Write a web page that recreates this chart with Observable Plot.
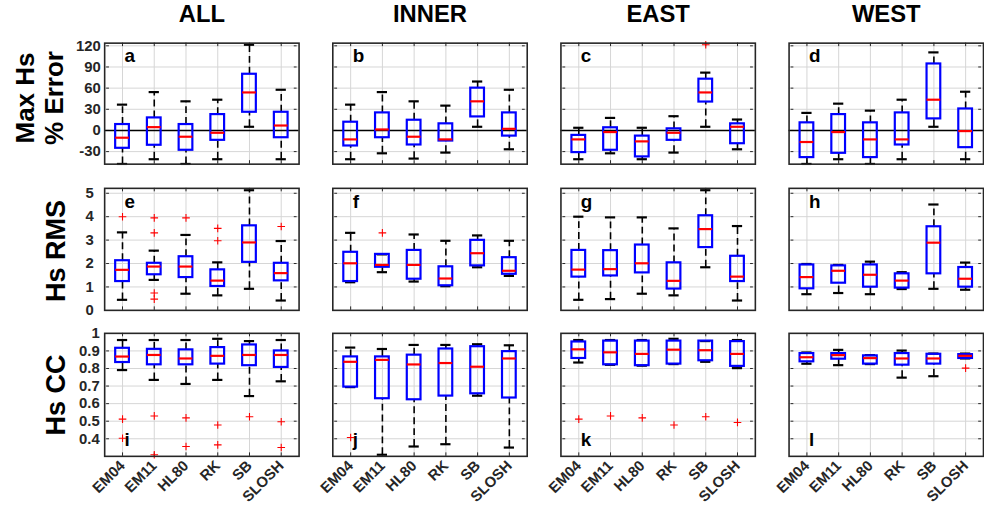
<!DOCTYPE html>
<html><head><meta charset="utf-8">
<script src="https://cdn.jsdelivr.net/npm/d3@7"></script>
<script src="https://cdn.jsdelivr.net/npm/@observablehq/plot@0.6"></script>
<style>
html,body{margin:0;padding:0;background:#fff;overflow:hidden;}
#wrap{position:relative;width:984px;height:505px;overflow:hidden;font-family:"Liberation Sans",Arial,sans-serif;}
.row{position:absolute;left:0;}
.rl{position:absolute;font-weight:bold;color:#000;white-space:nowrap;text-align:center;transform:translate(-50%,-50%) rotate(-90deg);}
</style></head><body>
<div id="wrap"></div>
<script>
const models = ["EM04","EM11","HL80","RK","SB","SLOSH"];
const regions = ["ALL","INNER","EAST","WEST"];
const letters = ["a","b","c","d","e","f","g","h","i","j","k","l"];

// each box: [lower whisker, Q1, median, Q3, upper whisker]
// Max Hs % Error
const errALL   = [[-47.5,-25.3,-10.3,8.4,36.6],[-40.8,-21,4.7,17.8,54.4],[-47.5,-28.1,-8.9,8.4,41.3],[-40.8,-14,-3.3,22.5,43.6],[5.2,25.8,53.9,79.7,121.5],[-40.8,-10.3,7,25.8,57.7]];
const errINNER = [[-40.8,-22,-12.7,11.7,36.6],[-32.4,-10.3,1.4,24.9,54.4],[-39.9,-20.6,-8.9,14.5,41.3],[-31.4,-15,-12.7,9.4,35.2],[5.2,19.2,41.3,60,69.4],[-26.7,-8,2.3,24.9,57.7]];
const errEAST  = [[-40.8,-31.4,-12.7,-7,3.8],[-32.4,-28.1,-2.3,3.8,17.8],[-40.8,-37.5,-15.5,-8,3.8],[-31.4,-14,-3.3,2.3,20.2],[5.2,40.3,53.9,72.7,82],[-26.7,-18.8,5.2,9.4,15.5]];
const errWEST  = [[-47.5,-38.5,-16.4,10.8,24.9],[-40.8,-32.4,-2.3,22.5,38],[-47.5,-38.5,-12.7,10.8,28.1],[-40.8,-20.6,-12.7,24.9,43.6],[5.2,16.4,43.6,94.3,110.7],[-40.8,-24.4,-0.9,30.5,54.9]];
const errOutliers = [["EAST","SB",121.5]];

// Hs RMS
const rmsALL   = [[0.45,1.23,1.73,2.12,3.33],[1.3,1.52,1.87,2.01,2.55],[0.71,1.4,1.87,2.29,3.22],[0.64,1.02,1.27,1.73,2.05],[0.92,2.05,2.9,3.61,5.13],[0.42,1.26,1.59,2.01,2.96]];
const rmsINNER = [[1.2,1.23,2.01,2.48,3.31],[1.63,1.84,1.94,2.39,2.39],[1.23,1.33,1.94,2.56,3.24],[1.03,1.05,1.36,1.86,2.97],[1.84,1.9,2.44,2.99,3.2],[1.47,1.54,1.69,2.25,2.97]];
const rmsEAST  = [[0.45,1.42,1.74,2.56,4.0],[0.48,1.47,1.76,2.55,3.97],[0.71,1.6,2.01,2.79,3.97],[0.64,0.91,1.26,2.03,3.5],[1.84,2.68,3.47,4.04,5.13],[0.42,1.23,1.44,2.31,3.6]];
const rmsWEST  = [[0.69,0.92,1.42,1.94,1.98],[0.74,1.16,1.69,1.9,1.94],[0.69,0.99,1.52,1.94,2.08],[0.91,0.95,1.27,1.56,1.63],[0.92,1.56,2.89,3.57,4.52],[0.88,0.99,1.35,1.83,2.04]];
const rmsOutliers = [["ALL","EM04",4.0],["ALL","EM11",3.95],["ALL","EM11",3.31],["ALL","EM11",0.74],["ALL","EM11",0.48],["ALL","HL80",3.95],["ALL","RK",3.5],["ALL","RK",2.97],["ALL","SLOSH",3.58],["INNER","EM11",3.31]];

// Hs CC
const ccALL   = [[0.791,0.834,0.868,0.915,0.962],[0.735,0.821,0.877,0.909,0.962],[0.712,0.821,0.857,0.906,0.962],[0.735,0.825,0.872,0.919,0.969],[0.643,0.816,0.877,0.934,0.956],[0.727,0.806,0.877,0.9,0.962]];
const ccINNER = [[0.694,0.694,0.838,0.866,0.919],[0.309,0.628,0.849,0.866,0.911],[0.356,0.622,0.823,0.876,0.934],[0.369,0.643,0.831,0.911,0.934],[0.645,0.656,0.81,0.924,0.938],[0.35,0.632,0.857,0.896,0.932]];
const ccEAST  = [[0.834,0.857,0.909,0.951,0.962],[0.821,0.821,0.892,0.956,0.962],[0.816,0.816,0.883,0.956,0.962],[0.825,0.825,0.907,0.956,0.969],[0.838,0.844,0.904,0.956,0.956],[0.802,0.812,0.883,0.953,0.962]];
const ccWEST  = [[0.827,0.838,0.864,0.885,0.891],[0.819,0.853,0.876,0.885,0.906],[0.825,0.825,0.859,0.872,0.876],[0.748,0.819,0.857,0.885,0.902],[0.756,0.825,0.857,0.881,0.885],[0.857,0.857,0.872,0.879,0.885]];
const ccOutliers = [["ALL","EM04",0.512],["ALL","EM04",0.403],["ALL","EM11",0.530],["ALL","EM11",0.309],["ALL","HL80",0.519],["ALL","HL80",0.356],["ALL","RK",0.478],["ALL","RK",0.365],["ALL","SB",0.525],["ALL","SLOSH",0.497],["ALL","SLOSH",0.35],["INNER","EM04",0.407],["EAST","EM04",0.512],["EAST","EM11",0.530],["EAST","HL80",0.519],["EAST","RK",0.478],["EAST","SB",0.525],["EAST","SLOSH",0.493],["WEST","SLOSH",0.802]];

const errTicks = [-30,0,30,60,90,120];
const rmsTicks = [0,1,2,3,4,5];
const ccTicks = [0.4,0.5,0.6,0.7,0.8,0.9,1];

function toRows(series) {
  return regions.flatMap((r, k) => series[k].map((v, i) => ({region: r, model: models[i], lo: v[0], q1: v[1], med: v[2], q3: v[3], hi: v[4]})));
}
function toOut(list) { return list.map(([region, model, v]) => ({region, model, v})); }

const STEP = 888 / (4 - 0.15) * 0.85 / 6;
const boxInset = (STEP - 14.5) / 2;
const capInset = (STEP - 11) / 2;
const GRID = "#d6d6d6";
const FONT = "'Liberation Sans', Arial, sans-serif";
const TICKLEN = 3.5;

function panelRow(cfg) {
  const rows = toRows(cfg.series);
  const outs = toOut(cfg.outliers);
  const lt = regions.map((r, k) => ({region: r, letter: letters[cfg.row * 4 + k]}));
  const plotH = cfg.height - cfg.mt - cfg.mb;
  const perPx = (cfg.domain[1] - cfg.domain[0]) / plotH;
  const tickData = cfg.ticks.filter(t => t > cfg.domain[0] && t < cfg.domain[1]);
  const marks = [
    Plot.gridY(cfg.ticks, {stroke: GRID, strokeOpacity: 1, strokeWidth: 1}),
    Plot.gridX(models, {stroke: GRID, strokeOpacity: 1, strokeWidth: 1}),
    Plot.axisY(cfg.ticks, {anchor: "left", tickSize: 0, tickPadding: cfg.tickPad, tickFormat: cfg.fmt, fontSize: 15, fontWeight: "bold", fill: "#262626", label: null}),
    // inward tick marks on all four sides
    Plot.tickY(tickData, {x: () => models[0], y: d => d, stroke: "#262626", strokeWidth: 1, insetRight: STEP - TICKLEN}),
    Plot.tickY(tickData, {x: () => models[5], y: d => d, stroke: "#262626", strokeWidth: 1, insetLeft: STEP - TICKLEN}),
    Plot.ruleX(models, {x: d => d, y1: cfg.domain[1], y2: cfg.domain[1] - TICKLEN * perPx, stroke: "#262626", strokeWidth: 1}),
    Plot.ruleX(models, {x: d => d, y1: cfg.domain[0], y2: cfg.domain[0] + TICKLEN * perPx, stroke: "#262626", strokeWidth: 1})
  ];
  if (cfg.zero) marks.push(Plot.ruleY([0], {stroke: "#000", strokeWidth: 1.6}));
  marks.push(
    Plot.ruleX(rows, {fx: "region", x: "model", y1: "q3", y2: "hi", stroke: "#000", strokeWidth: 1.6, strokeDasharray: "7,4"}),
    Plot.ruleX(rows, {fx: "region", x: "model", y1: "lo", y2: "q1", stroke: "#000", strokeWidth: 1.6, strokeDasharray: "7,4"}),
    Plot.tickY(rows, {fx: "region", x: "model", y: "hi", stroke: "#000", strokeWidth: 2.2, insetLeft: capInset, insetRight: capInset}),
    Plot.tickY(rows, {fx: "region", x: "model", y: "lo", stroke: "#000", strokeWidth: 2.2, insetLeft: capInset, insetRight: capInset}),
    Plot.barY(rows, {fx: "region", x: "model", y1: "q1", y2: "q3", fill: "none", stroke: "#0000ff", strokeWidth: 2.2, insetLeft: boxInset, insetRight: boxInset}),
    Plot.tickY(rows, {fx: "region", x: "model", y: "med", stroke: "#ff0000", strokeWidth: 2.2, insetLeft: boxInset, insetRight: boxInset}),
    Plot.dot(outs, {fx: "region", x: "model", y: "v", symbol: "plus", r: 2.6, stroke: "#ff0000", strokeWidth: 1.1}),
    Plot.text(lt, {fx: "region", text: "letter", frameAnchor: cfg.letterBottom ? "bottom-left" : "top-left", lineAnchor: "top", textAnchor: "start", dx: 20, dy: cfg.letterBottom ? -23.5 : 6, fontSize: 19, fontWeight: "bold", fill: "#000"}),
    Plot.frame({stroke: "#262626", strokeWidth: 1.6})
  );
  if (cfg.titles) marks.push(Plot.axisFx({anchor: "top", tickSize: 0, tickPadding: 21, fontSize: 24, fontWeight: "bold", fill: "#000", label: null}));
  if (cfg.xlabels) marks.push(Plot.axisX({anchor: "bottom", tickSize: 0, tickPadding: 7, tickRotate: -45, fontSize: 15, fontWeight: "bold", fill: "#262626", label: null}));
  const svg = Plot.plot({
    width: 992, height: cfg.height,
    marginLeft: 104, marginRight: 0, marginTop: cfg.mt, marginBottom: cfg.mb,
    fx: {domain: regions, paddingInner: 0.15, paddingOuter: 0, axis: null, label: null},
    x: {domain: models, type: "band", padding: 0, axis: null, label: null},
    y: {domain: cfg.domain, axis: null, label: null},
    style: {fontFamily: FONT, background: "transparent", overflow: "visible"},
    marks
  });
  const div = document.createElement("div");
  div.className = "row";
  div.style.top = cfg.top + "px";
  div.appendChild(svg);
  document.getElementById("wrap").appendChild(div);
}

panelRow({row: 0, series: [errALL, errINNER, errEAST, errWEST], outliers: errOutliers, ticks: errTicks, fmt: d => String(d), tickPad: 4,
  domain: [-47.8, 123.8], zero: true, titles: true, top: 0, height: 170, mt: 43, mb: 5});
panelRow({row: 1, series: [rmsALL, rmsINNER, rmsEAST, rmsWEST], outliers: rmsOutliers, ticks: rmsTicks, fmt: d => String(d), tickPad: 11,
  domain: [0, 5.21], top: 170, height: 145, mt: 18, mb: 4});
panelRow({row: 2, series: [ccALL, ccINNER, ccEAST, ccWEST], outliers: ccOutliers, ticks: ccTicks, fmt: d => d === 1 ? "1" : d.toFixed(1), tickPad: 5,
  domain: [0.3, 1.0], letterBottom: true, xlabels: true, top: 315, height: 190, mt: 18, mb: 48});

const rowLabels = [
  {html: "Max Hs<br>% Error", x: 39.5, y: 98, size: 26, lh: 29},
  {html: "Hs RMS", x: 56, y: 251, size: 27, lh: 30},
  {html: "Hs CC", x: 56, y: 395, size: 27, lh: 30}
];
for (const l of rowLabels) {
  const d = document.createElement("div");
  d.className = "rl";
  d.innerHTML = l.html;
  d.style.left = l.x + "px";
  d.style.top = l.y + "px";
  d.style.fontSize = l.size + "px";
  d.style.lineHeight = l.lh + "px";
  document.getElementById("wrap").appendChild(d);
}
</script>
</body></html>
